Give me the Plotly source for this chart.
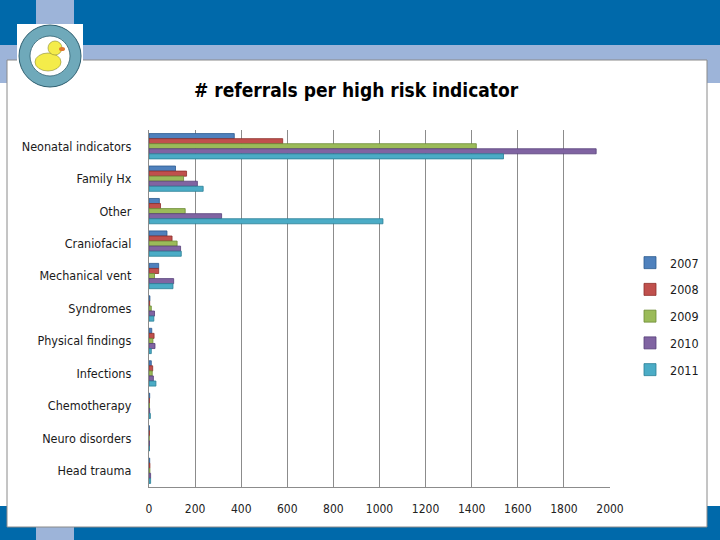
import plotly.graph_objects as go

categories = ["Neonatal indicators", "Family Hx", "Other", "Craniofacial", "Mechanical vent",
              "Syndromes", "Physical findings", "Infections", "Chemotherapy",
              "Neuro disorders", "Head trauma"]
years = ["2007", "2008", "2009", "2010", "2011"]
v2007 = [370, 115, 45, 78, 42, 4, 12, 10, 3, 2, 3]
v2008 = [580, 163, 50, 100, 42, 3, 22, 16, 2, 2, 4]
v2009 = [1420, 150, 157, 122, 24, 10, 17, 14, 2, 1, 4]
v2010 = [1940, 210, 315, 137, 107, 24, 26, 19, 3, 2, 7]
v2011 = [1538, 235, 1015, 140, 104, 21, 10, 30, 6, 2, 7]
series = [v2007, v2008, v2009, v2010, v2011]
x_ticks = list(range(0, 2001, 200))

colors = ["#4F81BD", "#C0504D", "#9BBB59", "#8064A2", "#4BACC6"]
edges = ["#2C5A8F", "#8E2E2B", "#6C8A35", "#553F78", "#2A7F96"]

W, H = 720, 540
def px(x):
    return x / W
def py(y):
    return 1 - y / H

FONT = "Liberation Sans Narrow, DejaVu Sans Condensed, Arial Narrow, sans-serif"

fig = go.Figure()
for i, (yr, vals) in enumerate(zip(years, series)):
    fig.add_trace(go.Bar(
        y=categories, x=vals, name=yr, orientation="h",
        marker=dict(color=colors[i], line=dict(color=edges[i], width=0.8)),
        legendgroup=yr,
    ))

shapes = []
def rect(x0, y0, x1, y1, fill, line=None, lw=0):
    shapes.append(dict(type="rect", xref="paper", yref="paper",
                       x0=px(x0), x1=px(x1), y0=py(y1), y1=py(y0),
                       fillcolor=fill, line=dict(color=line or fill, width=lw),
                       layer="below"))
def circ(cx, cy, rx, ry, fill, line=None, lw=0):
    shapes.append(dict(type="circle", xref="paper", yref="paper",
                       x0=px(cx - rx), x1=px(cx + rx), y0=py(cy + ry), y1=py(cy - ry),
                       fillcolor=fill, line=dict(color=line or fill, width=lw),
                       layer="below"))

DARK = "#0069AA"
LIGHT = "#9DB4D9"
# slide background decoration
rect(0, 0, 720, 45, DARK)
rect(0, 45, 720, 60, LIGHT)
rect(0, 45, 8, 83, LIGHT)
rect(706, 45, 720, 83, LIGHT)
rect(36, 0, 74, 45, LIGHT)
rect(0, 506, 720, 540, DARK)
rect(36, 527, 74, 540, LIGHT)
# white panel
rect(7, 60, 707, 527, "white", "#8A8A8A", 1)
# logo
rect(17, 24, 83, 88, "white")
circ(50, 56, 31, 31, "#6FA9BA", "#2F5F70", 1)
circ(50, 56, 20, 20, "white", "#2F5F70", 0.8)
circ(48, 62, 13, 9, "#F4EC4A", "#8A8A30", 0.6)
circ(55, 48, 7, 7, "#F4EC4A", "#8A8A30", 0.6)
circ(62, 49, 3, 2, "#E07A2F")

fig.update_layout(
    width=W, height=H, autosize=False,
    margin=dict(l=0, r=0, t=0, b=0, autoexpand=False),
    paper_bgcolor="white",
    plot_bgcolor="rgba(0,0,0,0)",
    barmode="group",
    bargap=0.22,
    bargroupgap=0.0,
    shapes=shapes,
    font=dict(family=FONT, size=13, color="#1A1A1A"),
    showlegend=True,
    legend=dict(xref="container", yref="container", x=px(630), y=py(248),
                xanchor="left", yanchor="top",
                bgcolor="rgba(0,0,0,0)", font=dict(size=12.5, color="#1A1A1A"),
                tracegroupgap=7.5, itemwidth=30, traceorder="grouped"),
    annotations=[dict(text="<b># referrals per high risk indicator</b>",
                      xref="paper", yref="paper", x=px(356), y=py(90),
                      xanchor="center", yanchor="middle", showarrow=False,
                      font=dict(family=FONT, size=19, color="black"))],
    xaxis=dict(domain=[px(149), px(610)], range=[0, 2000], tickvals=x_ticks,
               showgrid=True, gridcolor="#8C8C8C", gridwidth=1.3,
               showline=True, linecolor="#8C8C8C", linewidth=1.3,
               zeroline=False, ticks="", ticklabelstandoff=10,
               tickfont=dict(size=12, color="#222222")),
    yaxis=dict(domain=[py(487), py(130)], autorange="reversed",
               showline=True, linecolor="#8C8C8C", linewidth=1.3,
               showgrid=False, ticks="", ticklabelstandoff=14,
               tickfont=dict(size=12.5, color="#1A1A1A")),
)

post = "document.body.style.margin='0';document.body.style.overflow='hidden';"
fig.write_html("out.html",
               config={"responsive": False, "displayModeBar": False},
               post_script=post)
